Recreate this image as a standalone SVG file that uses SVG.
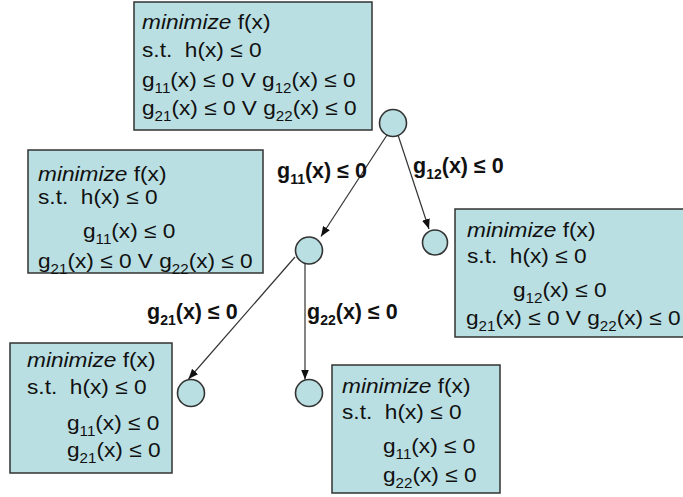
<svg xmlns="http://www.w3.org/2000/svg" width="683" height="497" viewBox="0 0 683 497">
<style>
.box{fill:#b9dfe2;stroke:#333;stroke-width:1.5}
.nd{fill:#b9dfe2;stroke:#333;stroke-width:1.6}
.t{font-family:"Liberation Sans",Arial,sans-serif;font-size:21px;fill:#111;white-space:pre}
.lb{font-family:"Liberation Sans",Arial,sans-serif;font-size:21.5px;font-weight:bold;fill:#111;white-space:pre}
.it{font-style:italic}
.sb{font-size:14px}
.ed{stroke:#333;stroke-width:1.2;fill:none;marker-end:url(#ah)}
</style>
<defs>
<marker id="ah" viewBox="0 0 10 8" refX="10" refY="4" markerWidth="10" markerHeight="8" markerUnits="userSpaceOnUse" orient="auto">
<path d="M0,0 L10,4 L0,8 Z" fill="#111"/>
</marker>
</defs>
<rect width="683" height="497" fill="#fff"/>

<g id="box-root">
<rect class="box" x="134" y="2" width="238" height="128"/>
<text class="t" transform="translate(142,29) scale(1.08,1)"><tspan class="it">minimize</tspan> f(x)</text>
<text class="t" transform="translate(142,57) scale(1.08,1)">s.t.  h(x) ≤ 0</text>
<text class="t" transform="translate(142,87) scale(1.08,1)">g<tspan class="sb" dy="6">11</tspan><tspan dy="-6">(x) ≤ 0 V g</tspan><tspan class="sb" dy="6">12</tspan><tspan dy="-6">(x) ≤ 0</tspan></text>
<text class="t" transform="translate(142,115) scale(1.08,1)">g<tspan class="sb" dy="6">21</tspan><tspan dy="-6">(x) ≤ 0 V g</tspan><tspan class="sb" dy="6">22</tspan><tspan dy="-6">(x) ≤ 0</tspan></text>
</g>

<g id="box-left">
<rect class="box" x="28" y="150" width="235" height="123"/>
<text class="t" transform="translate(38,181) scale(1.08,1)"><tspan class="it">minimize</tspan> f(x)</text>
<text class="t" transform="translate(38,204) scale(1.08,1)">s.t.  h(x) ≤ 0</text>
<text class="t" transform="translate(83,238) scale(1.08,1)">g<tspan class="sb" dy="6">11</tspan><tspan dy="-6">(x) ≤ 0</tspan></text>
<text class="t" transform="translate(38,268) scale(1.08,1)">g<tspan class="sb" dy="6">21</tspan><tspan dy="-6">(x) ≤ 0 V g</tspan><tspan class="sb" dy="6">22</tspan><tspan dy="-6">(x) ≤ 0</tspan></text>
</g>

<g id="box-right">
<rect class="box" x="455" y="209" width="240" height="128"/>
<text class="t" transform="translate(467,237) scale(1.08,1)"><tspan class="it">minimize</tspan> f(x)</text>
<text class="t" transform="translate(467,263) scale(1.08,1)">s.t.  h(x) ≤ 0</text>
<text class="t" transform="translate(513,297) scale(1.08,1)">g<tspan class="sb" dy="6">12</tspan><tspan dy="-6">(x) ≤ 0</tspan></text>
<text class="t" transform="translate(466,325) scale(1.08,1)">g<tspan class="sb" dy="6">21</tspan><tspan dy="-6">(x) ≤ 0 V g</tspan><tspan class="sb" dy="6">22</tspan><tspan dy="-6">(x) ≤ 0</tspan></text>
</g>

<g id="box-bl">
<rect class="box" x="10" y="343" width="162" height="130"/>
<text class="t" transform="translate(27,367) scale(1.08,1)"><tspan class="it">minimize</tspan> f(x)</text>
<text class="t" transform="translate(27,394) scale(1.08,1)">s.t.  h(x) ≤ 0</text>
<text class="t" transform="translate(67,430) scale(1.08,1)">g<tspan class="sb" dy="6">11</tspan><tspan dy="-6">(x) ≤ 0</tspan></text>
<text class="t" transform="translate(67,457) scale(1.08,1)">g<tspan class="sb" dy="6">21</tspan><tspan dy="-6">(x) ≤ 0</tspan></text>
</g>

<g id="box-br">
<rect class="box" x="332" y="365" width="168" height="128"/>
<text class="t" transform="translate(342,393) scale(1.08,1)"><tspan class="it">minimize</tspan> f(x)</text>
<text class="t" transform="translate(342,419) scale(1.08,1)">s.t.  h(x) ≤ 0</text>
<text class="t" transform="translate(383,453) scale(1.08,1)">g<tspan class="sb" dy="6">11</tspan><tspan dy="-6">(x) ≤ 0</tspan></text>
<text class="t" transform="translate(383,482) scale(1.08,1)">g<tspan class="sb" dy="6">22</tspan><tspan dy="-6">(x) ≤ 0</tspan></text>
</g>

<g id="connectors">
<path class="ed" d="M387,135 L321,236.5"/>
<path class="ed" d="M398,135 L429,229"/>
<path class="ed" d="M295,257 L188.5,379"/>
<path class="ed" d="M305,264 L305,379.5"/>
<text class="lb" x="277" y="178">g<tspan class="sb" dy="6">11</tspan><tspan dy="-6">(x) ≤ 0</tspan></text>
<text class="lb" x="413" y="173">g<tspan class="sb" dy="6">12</tspan><tspan dy="-6">(x) ≤ 0</tspan></text>
<text class="lb" x="147" y="319">g<tspan class="sb" dy="6">21</tspan><tspan dy="-6">(x) ≤ 0</tspan></text>
<text class="lb" x="307" y="319">g<tspan class="sb" dy="6">22</tspan><tspan dy="-6">(x) ≤ 0</tspan></text>
</g>

<g id="n-root"><circle class="nd" cx="393" cy="123" r="13.5"/></g>
<g id="n-1"><circle class="nd" cx="309" cy="250.5" r="13.5"/></g>
<g id="n-2"><circle class="nd" cx="435" cy="242.5" r="12.5"/></g>
<g id="n-3"><circle class="nd" cx="191" cy="393" r="13.5"/></g>
<g id="n-4"><circle class="nd" cx="309" cy="393" r="13.5"/></g>
</svg>
